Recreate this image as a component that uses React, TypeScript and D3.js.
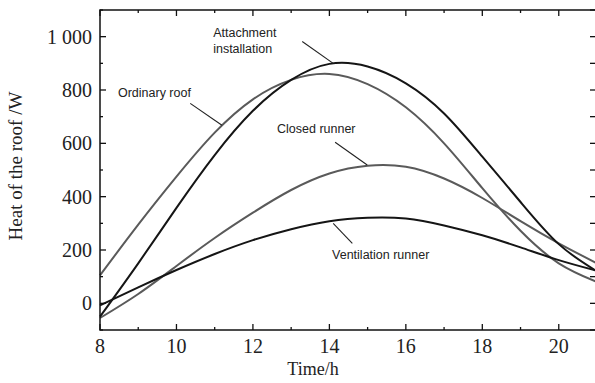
import React, { useEffect, useRef } from 'react';
import * as d3 from 'd3';

const W = 595;
const H = 383;
const margin = { top: 10, right: -2, bottom: 53, left: 100 };

// hours on the x axis
const hours = [8, 9, 10, 11, 12, 13, 14, 15, 16, 17, 18, 19, 20, 21];
// heat of the roof (W) per series
const ordinaryRoof = [105, 295, 475, 640, 765, 838, 860, 822, 735, 600, 432, 272, 150, 80];
const attachment = [-50, 150, 358, 556, 722, 838, 898, 888, 825, 712, 550, 380, 222, 120];
const closedRunner = [-55, 35, 140, 245, 340, 425, 487, 516, 512, 468, 395, 308, 225, 150];
const ventilationRunner = [-8, 60, 125, 185, 237, 278, 308, 321, 318, 292, 255, 210, 162, 122];

const xTicks = [8, 10, 12, 14, 16, 18, 20];
const yTicks = [0, 200, 400, 600, 800, 1000];

const series = [
  { name: 'Ordinary roof', values: ordinaryRoof, color: '#5a5a5a' },
  { name: 'Closed runner', values: closedRunner, color: '#5a5a5a' },
  { name: 'Attachment installation', values: attachment, color: '#151515' },
  { name: 'Ventilation runner', values: ventilationRunner, color: '#151515' },
];

// label text lines, anchor (h, W), leader line from/to (h, W)
const labels = [
  { lines: ['Ordinary roof'], at: [8.47, 772], from: [10.36, 750], to: [11.19, 668] },
  { lines: ['Attachment', 'installation'], at: [10.96, 997], from: [13.29, 982], to: [14.1, 900] },
  { lines: ['Closed runner'], at: [12.63, 637], from: [14.15, 604], to: [14.99, 519] },
  { lines: ['Ventilation runner'], at: [14.07, 168], from: [14.1, 300], to: [14.6, 225] },
];

export default function App() {
  const ref = useRef<SVGSVGElement>(null);

  useEffect(() => {
    const svg = d3.select(ref.current);
    svg.selectAll('*').remove();

    const x = d3.scaleLinear().domain([8, 21]).range([margin.left, W - margin.right]);
    const y = d3.scaleLinear().domain([-100, 1100]).range([H - margin.bottom, margin.top]);

    const serif = '"Liberation Serif", "Times New Roman", serif';
    const sans = '"Liberation Sans", Arial, sans-serif';

    // curves
    const line = d3
      .line<number>()
      .x((_, i) => x(hours[i]))
      .y((d) => y(d))
      .curve(d3.curveNatural);

    const plot = svg.append('g');
    series.forEach((s) => {
      plot
        .append('path')
        .attr('d', line(s.values))
        .attr('fill', 'none')
        .attr('stroke', s.color)
        .attr('stroke-width', 2);
    });

    // frame + inward ticks
    const x0 = x(8), x1 = x(21), y0 = y(-100), y1 = y(1100);
    svg
      .append('rect')
      .attr('x', x0)
      .attr('y', y1)
      .attr('width', x1 - x0)
      .attr('height', y0 - y1)
      .attr('fill', 'none')
      .attr('stroke', '#111')
      .attr('stroke-width', 1.5);

    const ticks = svg.append('g').attr('stroke', '#111').attr('stroke-width', 1.3);
    d3.range(8, 22, 1).forEach((h) => {
      const len = h % 2 === 0 ? 6 : 3;
      ticks.append('line').attr('x1', x(h)).attr('x2', x(h)).attr('y1', y0).attr('y2', y0 - len);
      ticks.append('line').attr('x1', x(h)).attr('x2', x(h)).attr('y1', y1).attr('y2', y1 + len);
    });
    d3.range(-100, 1101, 100).forEach((v) => {
      const len = v % 200 === 0 ? 6 : 3;
      ticks.append('line').attr('x1', x0).attr('x2', x0 + len).attr('y1', y(v)).attr('y2', y(v));
      ticks.append('line').attr('x1', W).attr('x2', W - 5).attr('y1', y(v)).attr('y2', y(v));
    });

    // tick labels
    svg
      .append('g')
      .selectAll('text')
      .data(xTicks)
      .enter()
      .append('text')
      .attr('x', (d) => x(d))
      .attr('y', y0 + 23)
      .attr('text-anchor', 'middle')
      .style('font-family', serif)
      .style('font-size', '20px')
      .attr('fill', '#222')
      .text((d) => String(d));

    svg
      .append('g')
      .selectAll('text')
      .data(yTicks)
      .enter()
      .append('text')
      .attr('x', x0 - 8)
      .attr('y', (d) => y(d) + 7)
      .attr('text-anchor', 'end')
      .style('font-family', serif)
      .style('font-size', '20px')
      .attr('fill', '#222')
      .text((d) => (d >= 1000 ? d3.format(',')(d).replace(',', ' ') : String(d)));

    // axis titles
    svg
      .append('text')
      .attr('x', 313)
      .attr('y', H - 8)
      .attr('text-anchor', 'middle')
      .style('font-family', serif)
      .style('font-size', '18px')
      .attr('fill', '#222')
      .text('Time/h');

    svg
      .append('text')
      .attr('transform', `translate(22, 166) rotate(-90)`)
      .attr('text-anchor', 'middle')
      .style('font-family', serif)
      .style('font-size', '19px')
      .attr('fill', '#222')
      .text('Heat of the roof /W');

    // annotations
    labels.forEach((l) => {
      svg
        .append('line')
        .attr('x1', x(l.from[0]))
        .attr('y1', y(l.from[1]))
        .attr('x2', x(l.to[0]))
        .attr('y2', y(l.to[1]))
        .attr('stroke', '#222')
        .attr('stroke-width', 1.1);
      l.lines.forEach((t, i) => {
        svg
          .append('text')
          .attr('x', x(l.at[0]))
          .attr('y', y(l.at[1]) + i * 16)
          .style('font-family', sans)
          .style('font-size', '12.5px')
          .attr('fill', '#222')
          .text(t);
      });
    });
  }, []);

  return (
    <svg
      ref={ref}
      width={W}
      height={H}
      style={{ position: 'absolute', left: 0, top: 0, background: '#fff' }}
    />
  );
}
